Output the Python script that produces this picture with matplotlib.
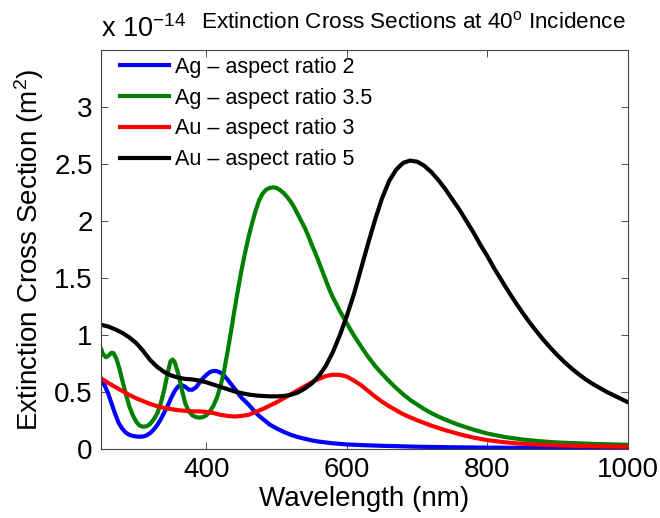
import matplotlib
matplotlib.use("Agg")
import matplotlib.pyplot as plt

plt.rcParams['font.family'] = ['Liberation Sans', 'DejaVu Sans']
plt.rcParams['mathtext.fontset'] = 'custom'
plt.rcParams['mathtext.rm'] = 'Liberation Sans'
plt.rcParams['mathtext.it'] = 'Liberation Sans'

# ---------------- data (units of 1e-14 m^2) ----------------
wl_ag2 = [250, 255, 260, 265, 270, 275, 280, 285, 290, 295, 300, 305, 310, 315, 320,
          325, 330, 335, 340, 345, 350, 355, 360, 365, 370, 375, 380, 385, 390, 395,
          400, 405, 410, 415, 420, 425, 430, 435, 440, 445, 450, 455, 460, 465, 470,
          475, 480, 490, 500, 510, 520, 530, 540, 550, 560, 580, 600, 625, 650, 700,
          750, 800, 850, 900, 950, 1000]
ag2 = [0.60, 0.56, 0.49, 0.40, 0.31, 0.23, 0.18, 0.145, 0.125, 0.115, 0.11, 0.108,
       0.11, 0.12, 0.14, 0.17, 0.21, 0.26, 0.32, 0.38, 0.45, 0.51, 0.55, 0.56, 0.545,
       0.52, 0.52, 0.54, 0.58, 0.62, 0.65, 0.675, 0.685, 0.683, 0.67, 0.645, 0.61,
       0.57, 0.53, 0.49, 0.45, 0.42, 0.39, 0.355, 0.32, 0.29, 0.265, 0.215, 0.18,
       0.15, 0.125, 0.105, 0.09, 0.075, 0.065, 0.05, 0.04, 0.033, 0.028, 0.02, 0.015,
       0.012, 0.01, 0.008, 0.006, 0.005]

wl_ag35 = [250, 253, 257, 261, 265, 268, 272, 276, 280, 285, 290, 295, 300, 305, 310,
           315, 320, 325, 330, 335, 340, 345, 349, 352, 355, 360, 365, 370, 375, 380,
           385, 390, 395, 400, 405, 410, 415, 420, 425, 430, 435, 440, 445, 450, 455,
           460, 465, 470, 475, 480, 485, 490, 495, 500, 505, 510, 515, 520, 525, 530,
           535, 540, 545, 550, 555, 560, 565, 570, 575, 580, 590, 600, 610, 620, 630,
           640, 650, 660, 670, 680, 690, 700, 710, 720, 730, 740, 750, 760, 780, 800,
           825, 850, 875, 900, 950, 1000]
ag35 = [0.88, 0.83, 0.805, 0.82, 0.845, 0.84, 0.79, 0.71, 0.61, 0.49, 0.38, 0.30,
        0.24, 0.205, 0.195, 0.20, 0.22, 0.26, 0.31, 0.40, 0.52, 0.67, 0.77, 0.785,
        0.76, 0.66, 0.52, 0.40, 0.33, 0.295, 0.28, 0.275, 0.28, 0.295, 0.33, 0.38,
        0.45, 0.55, 0.68, 0.85, 1.03, 1.22, 1.40, 1.57, 1.72, 1.86, 1.98, 2.09, 2.18,
        2.24, 2.275, 2.29, 2.295, 2.29, 2.27, 2.245, 2.21, 2.17, 2.12, 2.06, 2.00,
        1.94, 1.87, 1.79, 1.72, 1.64, 1.56, 1.48, 1.40, 1.33, 1.21, 1.10, 0.995, 0.90,
        0.81, 0.73, 0.66, 0.595, 0.535, 0.48, 0.43, 0.39, 0.35, 0.315, 0.285, 0.258,
        0.233, 0.21, 0.17, 0.135, 0.105, 0.083, 0.068, 0.057, 0.045, 0.037]

wl_au3 = [250, 260, 270, 280, 290, 300, 310, 320, 330, 340, 350, 360, 370, 380, 390,
          400, 410, 420, 430, 440, 450, 460, 470, 480, 490, 500, 510, 520, 530, 540,
          550, 560, 570, 580, 590, 600, 610, 620, 630, 640, 650, 660, 670, 680, 690,
          700, 720, 740, 760, 780, 800, 820, 840, 860, 880, 900, 940, 1000]
au3 = [0.62, 0.58, 0.545, 0.51, 0.475, 0.445, 0.42, 0.395, 0.375, 0.36, 0.35, 0.34,
       0.335, 0.33, 0.33, 0.325, 0.315, 0.30, 0.29, 0.285, 0.29, 0.30, 0.325, 0.35,
       0.38, 0.41, 0.445, 0.48, 0.515, 0.55, 0.585, 0.615, 0.64, 0.652, 0.65, 0.635,
       0.60, 0.56, 0.51, 0.46, 0.415, 0.375, 0.34, 0.305, 0.278, 0.252, 0.205, 0.165,
       0.13, 0.10, 0.078, 0.062, 0.05, 0.042, 0.036, 0.032, 0.026, 0.02]

wl_au5 = [250, 260, 270, 280, 290, 300, 310, 320, 330, 340, 350, 360, 370, 380, 390,
          400, 410, 420, 430, 440, 450, 460, 470, 480, 490, 500, 510, 520, 530, 540,
          550, 560, 570, 580, 590, 600, 610, 620, 630, 640, 650, 660, 670, 680, 690,
          700, 710, 720, 730, 740, 750, 760, 770, 780, 790, 800, 810, 820, 830, 840,
          850, 860, 870, 880, 890, 900, 910, 920, 930, 940, 950, 960, 970, 980, 990,
          1000]
au5 = [1.09, 1.075, 1.05, 1.02, 0.98, 0.93, 0.86, 0.78, 0.72, 0.675, 0.645, 0.625,
       0.615, 0.61, 0.60, 0.585, 0.565, 0.545, 0.525, 0.505, 0.49, 0.478, 0.47, 0.465,
       0.462, 0.462, 0.465, 0.475, 0.495, 0.53, 0.575, 0.64, 0.73, 0.85, 1.00, 1.17,
       1.36, 1.58, 1.80, 2.01, 2.20, 2.35, 2.45, 2.51, 2.53, 2.52, 2.485, 2.43, 2.36,
       2.28, 2.19, 2.10, 2.00, 1.90, 1.79, 1.69, 1.58, 1.48, 1.38, 1.285, 1.195, 1.11,
       1.03, 0.955, 0.885, 0.82, 0.76, 0.705, 0.655, 0.61, 0.57, 0.535, 0.50, 0.47,
       0.44, 0.41]

labels = ["Ag – aspect ratio 2", "Ag – aspect ratio 3.5",
          "Au – aspect ratio 3", "Au – aspect ratio 5"]
colors = ["#0000ff", "#008000", "#ff0000", "#000000"]

xticks = [400, 600, 800, 1000]
yticks = [0, 0.5, 1, 1.5, 2, 2.5, 3]
ytick_labels = ["0", "0.5", "1", "1.5", "2", "2.5", "3"]

# ---------------- figure ----------------
fig = plt.figure(figsize=(6.6, 5.18), dpi=100)
ax = fig.add_axes([101/660, 1-449/518, 527/660, 399/518])

series = [(wl_ag2, ag2), (wl_ag35, ag35), (wl_au3, au3), (wl_au5, au5)]
for (x, y), c, lab in zip(series, colors, labels):
    ax.plot(x, y, color=c, lw=3, label=lab, solid_joinstyle='round')

ax.set_xlim(250, 1000)
ax.set_ylim(0, 3.5)
ax.set_xticks(xticks)
ax.set_yticks(yticks)
ax.set_yticklabels(ytick_labels)
ax.tick_params(direction='in', top=True, right=True, labelsize=20, length=5,
               width=0.6, colors='#333333', labelcolor='black', pad=6)
for s in ax.spines.values():
    s.set_linewidth(0.8)
    s.set_color('#444444')

ax.set_xlabel("Wavelength (nm)", fontsize=20, labelpad=2)
ax.set_ylabel("Extinction Cross Section (m$^2$)", fontsize=20, labelpad=6)

leg = ax.legend(loc='upper left', bbox_to_anchor=(0.02, 1.004), frameon=False,
                fontsize=15.5, handlelength=2.25, handletextpad=0.3,
                labelspacing=0.45, borderaxespad=0)

fig.text(101/660, 1-37/518, "x 10$^{-14}$", fontsize=19.5, ha='left', va='baseline')
fig.text(201/660, 1-28/518, "Extinction Cross Sections at 40$^{\\rm o}$ Incidence",
         fontsize=16.2, ha='left', va='baseline')

fig.savefig("out.png", dpi=100)
